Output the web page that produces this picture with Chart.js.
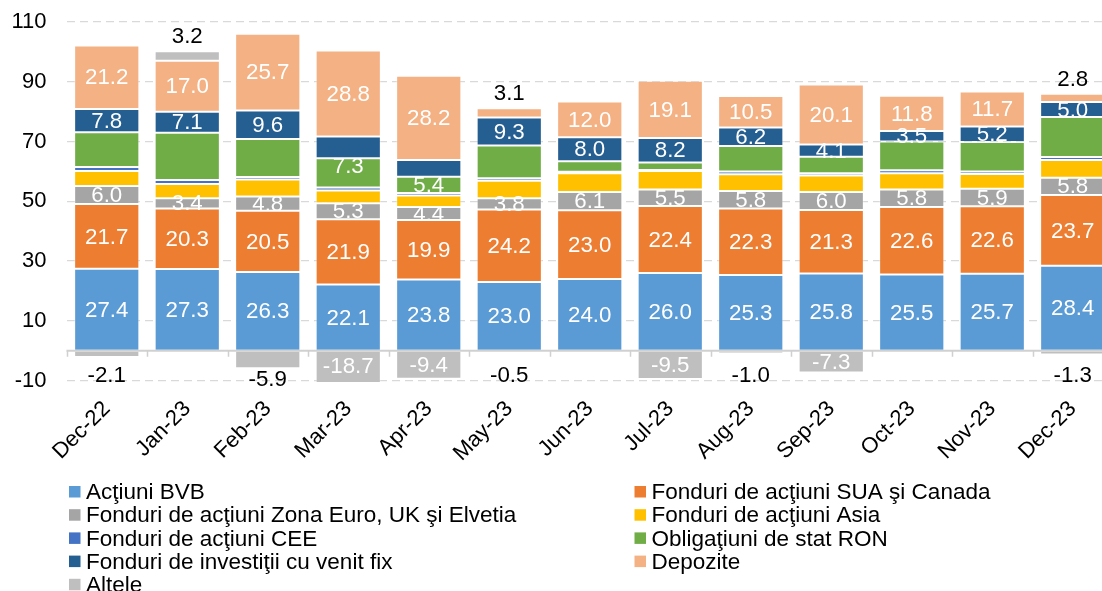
<!DOCTYPE html>
<html>
<head>
<meta charset="utf-8">
<script src="https://cdn.jsdelivr.net/npm/chart.js@4.4.1/dist/chart.umd.min.js"></script>
<style>
html,body{margin:0;padding:0;background:#fff;overflow:hidden;width:1102px;height:591px}
#wrap{position:absolute;left:0;top:0;width:1116px;height:591px}
</style>
</head>
<body>
<div id="wrap"><canvas id="c"></canvas></div>
<script>
const categories = ['Dec-22','Jan-23','Feb-23','Mar-23','Apr-23','May-23','Jun-23','Jul-23','Aug-23','Sep-23','Oct-23','Nov-23','Dec-23'];
const yTicks = [-10, 10, 30, 50, 70, 90, 110];

const actiuniBVB   = [27.4, 27.3, 26.3, 22.1, 23.8, 23.0, 24.0, 26.0, 25.3, 25.8, 25.5, 25.7, 28.4];
const fonduriSUA   = [21.7, 20.3, 20.5, 21.9, 19.9, 24.2, 23.0, 22.4, 22.3, 21.3, 22.6, 22.6, 23.7];
const fonduriEuro  = [6.0, 3.4, 4.8, 5.3, 4.4, 3.8, 6.1, 5.5, 5.8, 6.0, 5.8, 5.9, 5.8];
const fonduriAsia  = [5.0, 4.8, 5.7, 4.3, 3.8, 5.9, 6.3, 6.2, 5.6, 5.5, 5.5, 4.9, 5.9];
const fonduriCEE   = [1.4, 1.3, 0.8, 1.0, 0.9, 0.8, 0.5, 0.4, 1.0, 0.8, 1.0, 0.9, 1.0];
const obligatiuni  = [11.6, 15.8, 12.7, 9.8, 5.4, 11.0, 3.5, 2.5, 8.5, 5.5, 9.6, 9.8, 13.4];
const venitFix     = [7.8, 7.1, 9.6, 7.3, 5.6, 9.3, 8.0, 8.2, 6.2, 4.1, 3.5, 5.2, 5.0];
const depozite     = [21.2, 17.0, 25.7, 28.8, 28.2, 3.1, 12.0, 19.1, 10.5, 20.1, 11.8, 11.7, 2.8];
const altele       = [-2.1, 3.2, -5.9, -18.7, -9.4, -0.5, null, -9.5, -1.0, -7.3, null, null, -1.3];

const FONT = '"Liberation Sans", Arial, Helvetica, sans-serif';
Chart.defaults.font.family = FONT;

const series = [
  ['Acţiuni BVB', actiuniBVB, '#5B9BD5'],
  ['Fonduri de acţiuni SUA şi Canada', fonduriSUA, '#ED7D31'],
  ['Fonduri de acţiuni Zona Euro, UK şi Elvetia', fonduriEuro, '#A5A5A5'],
  ['Fonduri de acţiuni Asia', fonduriAsia, '#FFC000'],
  ['Fonduri de acţiuni CEE', fonduriCEE, '#4472C4'],
  ['Obligaţiuni de stat RON', obligatiuni, '#70AD47'],
  ['Fonduri de investiţii cu venit fix', venitFix, '#255E91'],
  ['Depozite', depozite, '#F4B183'],
  ['Altele', altele, '#BFBFBF']
];

// label display rules (style, not data)
const labeledSeries = [0, 1, 2, 6, 7, 8];
const extraLabels = ['5:4'];       // series:category
const hiddenLabels = ['6:4'];
const belowBaseLabels = ['6:3'];

const segLabels = {
  id: 'segLabels',
  afterDatasetsDraw(chart) {
    const ctx = chart.ctx, area = chart.chartArea, ys = chart.scales.y;
    ctx.save();
    ctx.font = '22.3px ' + FONT;
    ctx.textAlign = 'center';
    ctx.textBaseline = 'middle';
    chart.data.datasets.forEach((ds, d) => {
      const meta = chart.getDatasetMeta(d);
      meta.data.forEach((el, i) => {
        const v = ds.data[i];
        if (v == null) return;
        const key = d + ':' + i;
        const show = (labeledSeries.includes(d) || extraLabels.includes(key)) && !hiddenLabels.includes(key);
        if (!show) return;
        const top = Math.max(area.top, Math.min(area.bottom, el.y));
        const base = el.base;
        let y = (top + base) / 2;
        let color = '#FFFFFF';
        if ((d === 7 || d === 8) && Math.abs(v) < 6.5) {
          color = '#000000';
          y = v > 0 ? el.y - 15 : Math.max(el.y + 11, ys.getPixelForValue(-8.2));
        }
        if (belowBaseLabels.includes(key)) y = base + 8;
        ctx.fillStyle = color;
        ctx.fillText(v.toFixed(1), el.x, y + 1);
      });
    });
    ctx.restore();
  }
};

const zeroAxis = {
  id: 'zeroAxis',
  afterDatasetsDraw(chart) {
    const ctx = chart.ctx, area = chart.chartArea;
    const xs = chart.scales.x, ys = chart.scales.y;
    const y0 = ys.getPixelForValue(0);
    ctx.save();
    ctx.strokeStyle = '#D0D0D0';
    ctx.lineWidth = 2;
    ctx.beginPath();
    ctx.moveTo(area.left, y0);
    ctx.lineTo(area.right, y0);
    ctx.stroke();
    ctx.lineWidth = 1.5;
    const n = categories.length;
    const w = (xs.getPixelForTick(n - 1) - xs.getPixelForTick(0)) / (n - 1);
    ctx.beginPath();
    for (let i = 0; i <= n; i++) {
      const x = Math.round(xs.getPixelForTick(0) - w / 2 + i * w) + 0.5;
      ctx.moveTo(x, y0);
      ctx.lineTo(x, y0 + 6);
    }
    ctx.stroke();
    ctx.restore();
  }
};

const gridLegend = {
  id: 'gridLegend',
  afterDraw(chart) {
    const ctx = chart.ctx;
    ctx.save();
    ctx.font = '22.5px ' + FONT;
    ctx.textBaseline = 'middle';
    ctx.textAlign = 'left';
    chart.data.datasets.forEach((ds, k) => {
      const col = k % 2, row = Math.floor(k / 2);
      const x = [69, 634.5][col];
      const y = 492 + row * 23.2;
      ctx.fillStyle = ds.backgroundColor;
      ctx.fillRect(x, y - 6, 11.5, 11.5);
      ctx.fillStyle = '#000000';
      ctx.fillText(ds.label, x + 17, y + 1);
    });
    ctx.restore();
  }
};

new Chart(document.getElementById('c'), {
  type: 'bar',
  data: {
    labels: categories,
    datasets: series.map(([label, data, color]) => ({
      label, data,
      backgroundColor: color,
      borderColor: 'rgba(255,255,255,0.3)',
      borderWidth: 1,
      borderSkipped: false,
      barPercentage: 0.81,
      categoryPercentage: 1.0
    }))
  },
  options: {
    responsive: true,
    maintainAspectRatio: false,
    animation: false,
    events: [],
    layout: { padding: { top: 22, right: 3, bottom: 121, left: 0 } },
    plugins: { legend: { display: false }, tooltip: { enabled: false }, title: { display: false } },
    scales: {
      x: {
        stacked: true,
        grid: { display: false, drawTicks: false },
        border: { display: false },
        ticks: {
          autoSkip: false, maxRotation: 45, minRotation: 45,
          color: '#000000', font: { size: 22 }, padding: 14
        },
        afterFit(s) { s.height = 88; }
      },
      y: {
        stacked: true,
        min: -10.5, max: 110,
        afterBuildTicks(s) { s.ticks = yTicks.map(v => ({ value: v })); },
        grid: { color: '#D9D9D9', lineWidth: 1.3, drawTicks: true, tickLength: 20, tickColor: 'rgba(0,0,0,0)' },
        border: { display: false, dash: [8, 5] },
        ticks: { color: '#000000', font: { size: 22 }, padding: 0 },
        afterFit(s) { s.width = 66.5; }
      }
    }
  },
  plugins: [segLabels, zeroAxis, gridLegend]
});
</script>
</body>
</html>
